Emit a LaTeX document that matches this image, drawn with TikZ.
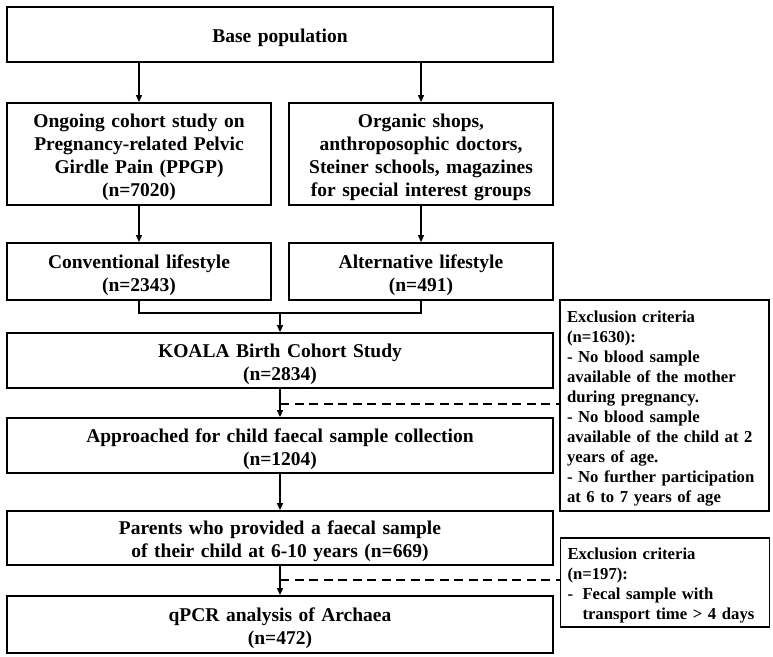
\documentclass[tikz,border=0pt]{standalone}
\usepackage{fontspec}
\setmainfont{Liberation Serif}
\usetikzlibrary{arrows.meta}
\tikzset{
  box/.style={draw, line width=1.8pt, inner sep=0pt, align=center,
    font=\fontsize{19.5}{23}\selectfont\bfseries,
    execute at begin node={\rule{0pt}{20.5pt}}},
  wide/.style={box, minimum width=546pt, text width=530pt},
  narrow/.style={box, minimum width=264pt, text width=256pt},
  exbox/.style={draw, line width=1.8pt, inner xsep=7pt, inner ysep=0pt,
    align=left, text width=195pt,
    font=\fontsize{16.7}{20}\selectfont\bfseries,
    execute at begin node={\rule{0pt}{18.5pt}}},
  arr/.style={line width=1.1pt, -{Triangle[length=7pt,width=6pt]}},
  link/.style={line width=1.1pt},
  dashlink/.style={line width=1.6pt, dash pattern=on 9pt off 5.5pt}
}
\begin{document}
\begin{tikzpicture}[x=1pt,y=-1pt]
\useasboundingbox (0,0) rectangle (773,656);
\node[wide, minimum height=55pt] (base) at (280,34.5) {Base population};
\node[narrow, minimum height=102pt] (ongoing) at (139,154)
  {Ongoing cohort study on\\Pregnancy-related Pelvic\\Girdle Pain (PPGP)\\(n=7020)};
\node[narrow, minimum height=102pt] (organic) at (421,154)
  {Organic shops,\\anthroposophic doctors,\\Steiner schools, magazines\\for special interest groups};
\node[narrow, minimum height=57pt] (conv) at (139,271.5)
  {Conventional lifestyle\\(n=2343)};
\node[narrow, minimum height=57pt] (alt) at (421,271.5)
  {Alternative lifestyle\\(n=491)};
\node[wide, minimum height=55pt] (koala) at (280,360.5)
  {KOALA Birth Cohort Study\\(n=2834)};
\node[wide, minimum height=55pt] (appr) at (280,445.5)
  {Approached for child faecal sample collection\\(n=1204)};
\node[wide, minimum height=54pt] (parents) at (280,538)
  {Parents who provided a faecal sample\\of their child at 6-10 years (n=669)};
\node[wide, minimum height=57pt] (qpcr) at (280,624.5)
  {qPCR analysis of Archaea\\(n=472)};
\node[exbox, minimum height=211pt] (ex1) at (664.5,405.5)
  {Exclusion criteria\\(n=1630):\\- No blood sample\\available of the mother\\during pregnancy.\\- No blood sample\\available of the child at 2\\years of age.\\- No further participation\\at 6 to 7 years of age};
\node[exbox, minimum height=89pt] (ex2) at (665,582.5)
  {Exclusion criteria\\(n=197):\\\makebox[15pt][l]{-}Fecal sample with\\\hspace*{15pt}transport time > 4 days};

\draw[arr] (base.south -| ongoing) -- (ongoing.north);
\draw[arr] (base.south -| organic) -- (organic.north);
\draw[arr] (organic.south) -- (alt.north);
\draw[arr] (ongoing.south) -- (conv.north);
\coordinate (mj) at (280,313);
\draw[link] (conv.south) -- (conv.south |- mj) -- (alt.south |- mj) -- (alt.south);
\draw[arr] (mj) -- (koala.north);
\draw[arr] (koala.south) -- (appr.north);
\coordinate (d1) at (280,404);
\draw[dashlink] (d1) -- (d1 -| ex1.west);
\draw[arr] (appr.south) -- (parents.north);
\draw[arr] (parents.south) -- (qpcr.north);
\coordinate (d2) at (280,580);
\draw[dashlink] (d2) -- (d2 -| ex2.west);
\end{tikzpicture}
\end{document}
